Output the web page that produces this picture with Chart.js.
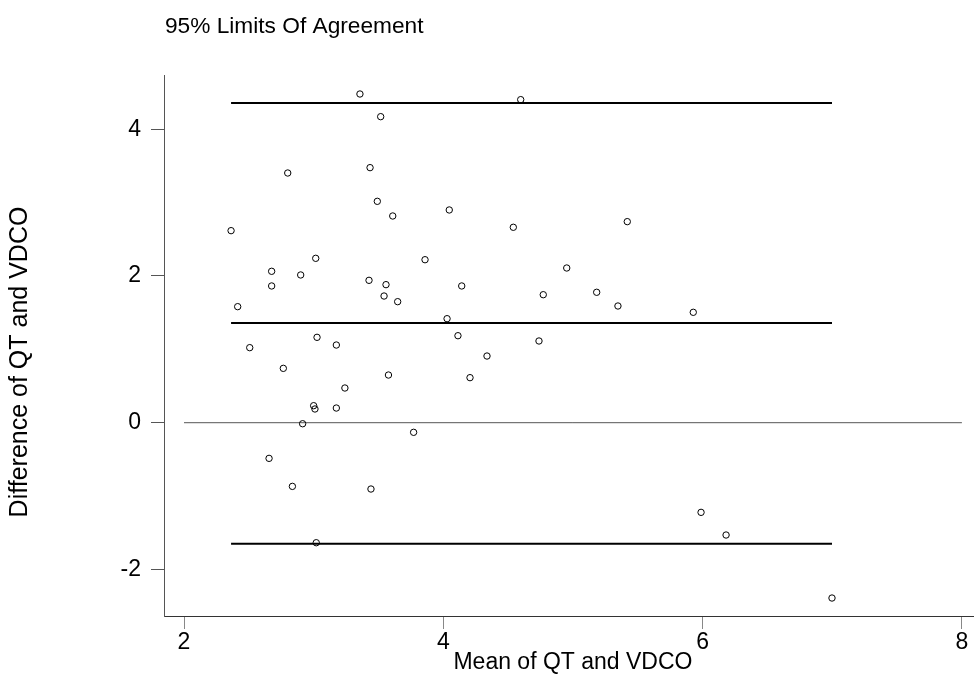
<!DOCTYPE html>
<html>
<head>
<meta charset="utf-8">
<script src="https://cdn.jsdelivr.net/npm/chart.js@4/dist/chart.umd.min.js"></script>
<style>
  html, body { margin: 0; padding: 0; background: #fff; }
  #wrap { width: 974px; height: 675px; }
</style>
</head>
<body>
<div id="wrap"><canvas id="ba" width="974" height="675"></canvas></div>
<script>
// Bland-Altman comparison of QT and VDCO measurements
const means = [
  3.357, 3.517, 2.800, 3.435, 3.491, 3.610, 4.046, 2.363, 4.597, 4.540,
  5.419, 4.952, 4.142, 4.771, 5.183, 5.347, 5.928, 4.029, 4.113, 4.738,
  4.337, 4.206, 2.676, 2.900, 3.016, 2.676, 2.414, 3.427, 3.558, 3.543,
  3.648, 3.859, 2.507, 3.026, 3.175, 2.766, 3.577, 3.241, 3.000, 3.010,
  3.175, 2.915, 3.771, 2.656, 2.836, 3.442, 3.020, 5.988, 6.181, 6.998
];
const diffs = [
  4.481, 4.172, 3.404, 3.477, 3.018, 2.818, 2.900, 2.618, 4.404, 2.664,
  2.741, 2.109, 1.864, 1.745, 1.778, 1.591, 1.505, 1.418, 1.186, 1.114,
  0.909, 0.614, 2.064, 2.014, 2.241, 1.864, 1.582, 1.941, 1.882, 1.727,
  1.650, 2.222, 1.023, 1.164, 1.059, 0.741, 0.650, 0.473, 0.232, 0.187,
  0.200, -0.014, -0.131, -0.486, -0.868, -0.904, -1.636, -1.222, -1.531, -2.390
];
const xTicks = [2, 4, 6, 8];
const yTicks = [-2, 0, 2, 4];

// mean difference and 95% limits of agreement
const meanDiff = 1.36;
const upperLoA = 4.36;
const lowerLoA = -1.65;

const titleText = '95% Limits Of Agreement';
const xTitle = 'Mean of QT and VDCO';
const yTitle = 'Difference of QT and VDCO';

const FONT = "'Liberation Sans', Arial, Helvetica, sans-serif";
const xLo = Math.min(...means);
const xHi = Math.max(...means);

function hLine(y, x0, x1, color, width) {
  return {
    type: 'line',
    data: [{ x: x0, y: y }, { x: x1, y: y }],
    borderColor: color,
    borderWidth: width,
    pointRadius: 0,
    fill: false,
    order: 2
  };
}

const textPlugin = {
  id: 'texts',
  afterDraw(chart) {
    const ctx = chart.ctx;
    ctx.save();
    ctx.fillStyle = '#000';
    ctx.textBaseline = 'alphabetic';
    ctx.font = '22.7px ' + FONT;
    ctx.textAlign = 'left';
    ctx.fillText(titleText, 165, 33);
    ctx.textAlign = 'center';
    ctx.font = '23px ' + FONT;
    const xs = chart.scales.x;
    ctx.fillText(xTitle, (xs.getPixelForValue(2) + xs.getPixelForValue(8)) / 2, 669);
    ctx.translate(27, 362);
    ctx.rotate(-Math.PI / 2);
    ctx.font = '25px ' + FONT;
    ctx.fillText(yTitle, 0, 0);
    ctx.restore();
  }
};

new Chart(document.getElementById('ba'), {
  type: 'scatter',
  data: {
    datasets: [
      hLine(0, 2, 8, '#555', 1),
      hLine(upperLoA, xLo, xHi, '#000', 2),
      hLine(meanDiff, xLo, xHi, '#000', 2),
      hLine(lowerLoA, xLo, xHi, '#000', 2),
      {
        type: 'scatter',
        data: means.map((m, i) => ({ x: m, y: diffs[i] })),
        pointStyle: 'circle',
        pointRadius: 3.2,
        pointBorderWidth: 1,
        borderColor: '#000',
        backgroundColor: 'rgba(255,255,255,0)',
        showLine: false,
        order: 1
      }
    ]
  },
  options: {
    responsive: false,
    animation: false,
    devicePixelRatio: 1,
    layout: { autoPadding: false, padding: { left: 0, top: 75, right: 1, bottom: 0 } },
    plugins: { legend: { display: false }, tooltip: { enabled: false } },
    scales: {
      x: {
        type: 'linear',
        min: 1.8457,
        max: 8.0856,
        afterBuildTicks: s => { s.ticks = xTicks.map(v => ({ value: v })); },
        afterFit: s => { s.height = 59; s.paddingLeft = 0; s.paddingRight = 0; },
        grid: { drawOnChartArea: false, drawTicks: true, tickLength: 13, color: '#888', lineWidth: 1 },
        border: { display: true, color: '#333', width: 1 },
        ticks: { font: { family: FONT, size: 23 }, color: '#000', padding: 0, maxRotation: 0, autoSkip: false }
      },
      y: {
        type: 'linear',
        min: -2.635,
        max: 4.74,
        afterBuildTicks: s => { s.ticks = yTicks.map(v => ({ value: v })); },
        afterFit: s => { s.width = 164; s.paddingTop = 0; s.paddingBottom = 0; },
        grid: { drawOnChartArea: false, drawTicks: true, tickLength: 13, color: '#555', lineWidth: 1 },
        border: { display: true, color: '#555', width: 1 },
        ticks: { font: { family: FONT, size: 23 }, color: '#000', padding: 10, autoSkip: false }
      }
    }
  },
  plugins: [textPlugin]
});
</script>
</body>
</html>
